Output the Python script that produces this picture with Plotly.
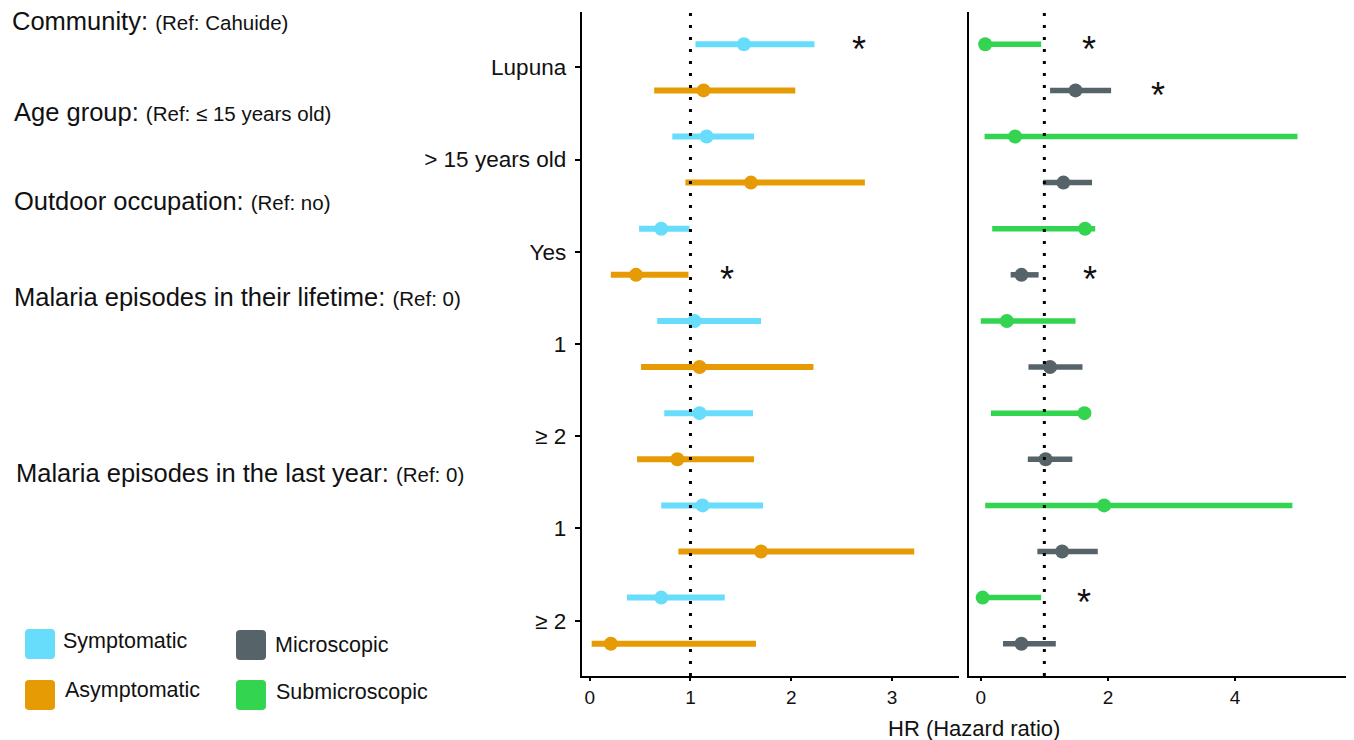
import plotly.graph_objects as go

# ---------------- data ----------------
groups = ["Lupuna", "> 15 years old", "Yes", "1", "≥ 2", "1", "≥ 2"]

sym_hr = [1.53, 1.16, 0.71, 1.04, 1.09, 1.12, 0.71]
sym_lo = [1.05, 0.82, 0.49, 0.67, 0.74, 0.71, 0.37]
sym_hi = [2.23, 1.63, 0.99, 1.70, 1.62, 1.72, 1.34]

asym_hr = [1.13, 1.60, 0.46, 1.09, 0.87, 1.70, 0.21]
asym_lo = [0.64, 0.95, 0.21, 0.51, 0.47, 0.88, 0.02]
asym_hi = [2.04, 2.73, 0.98, 2.22, 1.63, 3.22, 1.65]

submicro_hr = [0.07, 0.54, 1.64, 0.41, 1.63, 1.94, 0.03]
submicro_lo = [0.01, 0.06, 0.18, 0.00, 0.16, 0.07, 0.00]
submicro_hi = [0.95, 4.98, 1.80, 1.49, 1.65, 4.90, 0.95]

micro_hr = [1.49, 1.30, 0.64, 1.09, 1.02, 1.28, 0.64]
micro_lo = [1.09, 0.98, 0.47, 0.75, 0.74, 0.89, 0.35]
micro_hi = [2.05, 1.75, 0.91, 1.60, 1.44, 1.84, 1.18]

# significance asterisk x-positions (None = not significant)
sym_star = [2.67, None, None, None, None, None, None]
asym_star = [None, None, 1.36, None, None, None, None]
submicro_star = [1.70, None, None, None, None, None, 1.62]
micro_star = [2.79, None, 1.72, None, None, None, None]

ref_hr = 1

headings = [
    ("Community:", "(Ref: Cahuide)"),
    ("Age group:", "(Ref: ≤ 15 years old)"),
    ("Outdoor occupation:", "(Ref: no)"),
    ("Malaria episodes in their lifetime:", "(Ref: 0)"),
    ("Malaria episodes in the last year:", "(Ref: 0)"),
]

legend_names = ["Symptomatic", "Asymptomatic", "Microscopic", "Submicroscopic"]

# ---------------- style ----------------
C_SYM = "#67DCFB"
C_ASYM = "#E69B05"
C_MICRO = "#56646A"
C_SUB = "#33D44F"
TXT = "#111111"
FONT = "Liberation Sans, Arial, sans-serif"

W, H = 1354, 740
SH = 8  # page body margin offset
MT = 12 - SH
PLOT_BOTTOM = 676 - SH
MB = H - PLOT_BOTTOM
PLOT_H = PLOT_BOTTOM - MT


def px(x):
    return (x - SH) / W


def py(y):
    return (PLOT_BOTTOM - (y - SH)) / PLOT_H


OFF = 0.25
idx = list(range(len(groups)))

fig = go.Figure()


def add_series(hr, lo, hi, offset, color, xa, ya, name, lw):
    xs, ys = [], []
    for i in idx:
        xs += [lo[i], hi[i], None]
        ys += [i + offset, i + offset, None]
    fig.add_trace(go.Scatter(x=xs, y=ys, mode="lines", line=dict(color=color, width=lw),
                             xaxis=xa, yaxis=ya, showlegend=False, hoverinfo="skip"))
    fig.add_trace(go.Scatter(x=hr, y=[i + offset for i in idx], mode="markers",
                             marker=dict(color=color, size=14, line=dict(width=0)),
                             xaxis=xa, yaxis=ya, showlegend=False, name=name))


add_series(sym_hr, sym_lo, sym_hi, -OFF, C_SYM, "x", "y", "Symptomatic", 6)
add_series(asym_hr, asym_lo, asym_hi, OFF, C_ASYM, "x", "y", "Asymptomatic", 6)
add_series(submicro_hr, submicro_lo, submicro_hi, -OFF, C_SUB, "x2", "y2", "Submicroscopic", 5.5)
add_series(micro_hr, micro_lo, micro_hi, OFF, C_MICRO, "x2", "y2", "Microscopic", 5.5)

annotations = []


def add_stars(stars, offset, xref, yref):
    for i, s in enumerate(stars):
        if s is not None:
            annotations.append(dict(x=s, y=i + offset, xref=xref, yref=yref, text="*",
                                    showarrow=False, font=dict(size=36, color=TXT, family=FONT),
                                    yshift=-5))


add_stars(sym_star, -OFF, "x", "y")
add_stars(asym_star, OFF, "x", "y")
add_stars(submicro_star, -OFF, "x2", "y2")
add_stars(micro_star, OFF, "x2", "y2")

# reference lines at HR = 1
for xr in ["x", "x2"]:
    fig.add_shape(type="line", x0=ref_hr, x1=ref_hr, y0=0, y1=1, xref=xr,
                  yref="y domain" if xr == "x" else "y2 domain",
                  line=dict(color="black", width=3, dash="3px,9px"))

# headings
head_pos = [(10, 21), (12, 112), (12, 201), (12, 297), (14, 473)]
for (big, small), (hx, hy) in zip(headings, head_pos):
    annotations.append(dict(
        x=px(hx), y=py(hy), xref="paper", yref="paper", xanchor="left", yanchor="middle",
        text=f"{big} <span style='font-size:20.5px'>{small}</span>", showarrow=False,
        font=dict(size=25.5, color=TXT, family=FONT)))

# legend
leg = [
    (legend_names[0], C_SYM, 25, 629, 61, 641),
    (legend_names[1], C_ASYM, 25, 680, 63, 690),
    (legend_names[2], C_MICRO, 236, 630, 273, 645),
    (legend_names[3], C_SUB, 236, 680, 274, 692),
]
for name, col, sx, sy, tx, ty in leg:
    s = 30
    r = 4
    x0, x1 = sx, sx + s
    y0, y1 = sy, sy + s
    path = (f"M {px(x0 + r)},{py(y0)} L {px(x1 - r)},{py(y0)} Q {px(x1)},{py(y0)} {px(x1)},{py(y0 + r)} "
            f"L {px(x1)},{py(y1 - r)} Q {px(x1)},{py(y1)} {px(x1 - r)},{py(y1)} "
            f"L {px(x0 + r)},{py(y1)} Q {px(x0)},{py(y1)} {px(x0)},{py(y1 - r)} "
            f"L {px(x0)},{py(y0 + r)} Q {px(x0)},{py(y0)} {px(x0 + r)},{py(y0)} Z")
    fig.add_shape(type="path", path=path, xref="paper", yref="paper",
                  fillcolor=col, line=dict(width=0))
    annotations.append(dict(x=px(tx), y=py(ty), xref="paper", yref="paper", xanchor="left",
                            yanchor="middle", text=name, showarrow=False,
                            font=dict(size=21.5, color=TXT, family=FONT)))

# x-axis title
annotations.append(dict(x=px(974), y=py(728), xref="paper", yref="paper", xanchor="center",
                        yanchor="middle", text="HR (Hazard ratio)", showarrow=False,
                        font=dict(size=22, color=TXT, family=FONT)))

axis_common = dict(showline=True, linecolor="black", linewidth=2, showgrid=False, zeroline=False,
                   ticks="outside", ticklen=3, tickwidth=1.5, tickcolor="black",
                   tickfont=dict(size=19, color=TXT, family=FONT))

fig.update_layout(
    width=W, height=H, margin=dict(l=0, r=0, t=MT, b=MB),
    paper_bgcolor="white", plot_bgcolor="white", showlegend=False,
    font=dict(family=FONT, color=TXT),
    xaxis=dict(domain=[px(581.7), px(959.3)], range=[-0.079, 3.667], tickvals=[0, 1, 2, 3],
               anchor="y", **axis_common),
    xaxis2=dict(domain=[px(969.3), px(1347.7)], range=[-0.18, 5.77], tickvals=[0, 2, 4],
                anchor="y2", **axis_common),
    yaxis=dict(domain=[0, 1], range=[6.6, -0.6], tickvals=idx, ticktext=groups,
               showline=True, linecolor="black", linewidth=2, showgrid=False, zeroline=False,
               ticks="outside", ticklen=5, tickwidth=1.5, tickcolor="black",
               ticklabelstandoff=4,
               tickfont=dict(size=22.5, color=TXT, family=FONT), anchor="x"),
    yaxis2=dict(domain=[0, 1], range=[6.6, -0.6], showticklabels=False, ticks="",
                showline=True, linecolor="black", linewidth=2, showgrid=False, zeroline=False,
                anchor="x2"),
    annotations=annotations,
)

fig.write_html("out.html")
